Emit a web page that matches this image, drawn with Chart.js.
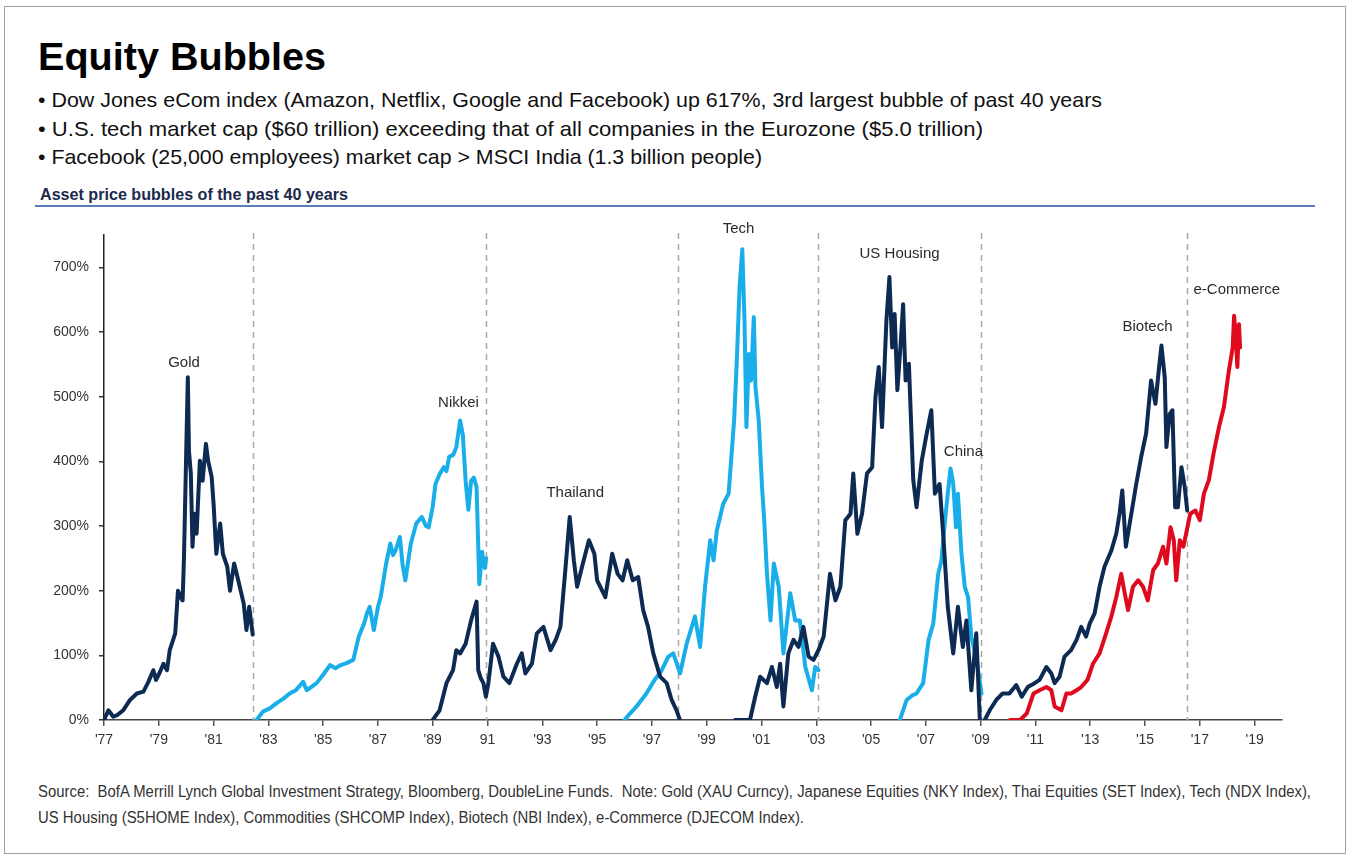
<!DOCTYPE html>
<html>
<head>
<meta charset="utf-8">
<title>Equity Bubbles</title>
<script src="https://cdn.jsdelivr.net/npm/chart.js@4.4.1/dist/chart.umd.min.js"></script>
<style>
  html, body { margin: 0; padding: 0; background: #fff; }
  #page { position: relative; width: 1347px; height: 855px; overflow: hidden; font-family: "Liberation Sans", Arial, sans-serif; color: #111; }
  #frame { position: absolute; left: 4px; top: 6px; width: 1340px; height: 846px; border: 1px solid #a0a0a0; }
  .fit { position: absolute; white-space: nowrap; transform-origin: 0 0; }
  #title { left: 38px; top: 37px; font-size: 39px; font-weight: bold; line-height: 39px; color: #000; }
  .bullet { left: 38px; font-size: 21px; line-height: 22px; color: #111; }
  #subtitle { left: 40px; top: 186px; font-size: 16px; font-weight: bold; color: #1b2a4e; line-height: 18px; }
  #rule { position: absolute; left: 35px; top: 205px; width: 1280px; height: 2px; background: #5a7db5; }
  .source { left: 38px; font-size: 16px; color: #333; line-height: 17px; }
  #chartBox { position: absolute; left: 0; top: 210px; width: 1347px; height: 550px; }
</style>
</head>
<body>
<div id="page">
  <div id="frame"></div>
  <div id="title" class="fit">Equity Bubbles</div>
  <div id="b1" class="fit bullet" style="top:89px">• Dow Jones eCom index (Amazon, Netflix, Google and Facebook) up 617%, 3rd largest bubble of past 40 years</div>
  <div id="b2" class="fit bullet" style="top:118px">• U.S. tech market cap ($60 trillion) exceeding that of all companies in the Eurozone ($5.0 trillion)</div>
  <div id="b3" class="fit bullet" style="top:146px">• Facebook (25,000 employees) market cap &gt; MSCI India (1.3 billion people)</div>
  <div id="subtitle" class="fit">Asset price bubbles of the past 40 years</div>
  <div id="rule"></div>
  <div id="chartBox"><canvas id="bubbleChart" width="1347" height="550"></canvas></div>
  <div id="s1" class="fit source" style="top:783px">Source:&nbsp; BofA Merrill Lynch Global Investment Strategy, Bloomberg, DoubleLine Funds.&nbsp; Note: Gold (XAU Curncy), Japanese Equities (NKY Index), Thai Equities (SET Index), Tech (NDX Index),</div>
  <div id="s2" class="fit source" style="top:809px">US Housing (S5HOME Index), Commodities (SHCOMP Index), Biotech (NBI Index), e-Commerce (DJECOM Index).</div>
</div>
<script>
// Axis ticks
var tickYears = [1977, 1979, 1981, 1983, 1985, 1987, 1989, 1991, 1993, 1995, 1997, 1999, 2001, 2003, 2005, 2007, 2009, 2011, 2013, 2015, 2017, 2019];
var tickLabels = ["'77", "'79", "'81", "'83", "'85", "'87", "'89", "91", "'93", "'95", "'97", "'99", "'01", "'03", "'05", "'07", "'09", "'11", "'13", "'15", "'17", "'19"];
var yTickValues = [0, 100, 200, 300, 400, 500, 600, 700];

// Dashed separators between bubbles (year)
var dividerYears = [1982.44, 1990.95, 1997.95, 2003.07, 2009.0, 2016.53];

// Bubble labels: name, year, % level
var bubbleNames = ['Gold', 'Nikkei', 'Thailand', 'Tech', 'US Housing', 'China', 'Biotech', 'e-Commerce'];
var labelYears = [1979.92, 1989.94, 1994.2, 2000.16, 2006.04, 2008.37, 2015.09, 2018.35];
var labelValues = [552, 491, 351, 759, 721, 414, 608, 665];

// Series: [year, % gain from start]
var gold = [[1977.0, 0], [1977.16, 15], [1977.34, 5], [1977.5, 8], [1977.7, 15], [1977.95, 31], [1978.2, 41], [1978.44, 44],
  [1978.62, 59], [1978.8, 77], [1978.9, 62], [1979.05, 75], [1979.17, 87], [1979.3, 77], [1979.4, 108], [1979.6, 134],
  [1979.7, 200], [1979.8, 190], [1979.87, 185], [1979.92, 252], [1980.0, 412], [1980.06, 530], [1980.1, 417], [1980.17, 381],
  [1980.23, 268], [1980.3, 319], [1980.38, 288], [1980.5, 401], [1980.6, 370], [1980.72, 427], [1980.8, 401], [1980.93, 376],
  [1981.0, 334], [1981.1, 257], [1981.24, 304], [1981.34, 257], [1981.5, 237], [1981.6, 200], [1981.75, 242], [1981.9, 216],
  [1982.1, 180], [1982.2, 139], [1982.3, 175], [1982.43, 132]];

var nikkei = [[1982.57, 0], [1982.8, 13], [1983.05, 18], [1983.3, 26], [1983.55, 33], [1983.78, 41], [1984.0, 46], [1984.27, 59],
  [1984.4, 46], [1984.6, 52], [1984.76, 57], [1985.0, 70], [1985.25, 85], [1985.45, 80], [1985.6, 84], [1985.85, 88],
  [1986.1, 93], [1986.3, 129], [1986.5, 150], [1986.6, 165], [1986.7, 175], [1986.85, 139], [1987.0, 175], [1987.1, 190],
  [1987.3, 242], [1987.45, 273], [1987.55, 255], [1987.64, 262], [1987.8, 283], [1987.9, 240], [1988.0, 216], [1988.2, 273],
  [1988.4, 304], [1988.6, 314], [1988.75, 300], [1988.85, 298], [1989.0, 330], [1989.1, 365], [1989.25, 380], [1989.4, 391],
  [1989.5, 385], [1989.6, 407], [1989.75, 410], [1989.86, 422], [1990.0, 463], [1990.1, 440], [1990.2, 370], [1990.3, 325],
  [1990.4, 370], [1990.5, 375], [1990.6, 360], [1990.7, 210], [1990.8, 260], [1990.9, 235], [1990.95, 250]];

var thailand = [[1989.0, 0], [1989.25, 15], [1989.5, 57], [1989.74, 77], [1989.86, 108], [1990.0, 103], [1990.2, 118], [1990.4, 154],
  [1990.6, 183], [1990.66, 77], [1990.75, 65], [1990.85, 57], [1990.94, 36], [1991.03, 57], [1991.2, 118], [1991.4, 98],
  [1991.58, 67], [1991.8, 57], [1992.07, 87], [1992.25, 103], [1992.38, 72], [1992.62, 87], [1992.8, 134], [1993.04, 144],
  [1993.3, 108], [1993.5, 125], [1993.66, 144], [1993.84, 232], [1994.0, 314], [1994.15, 247], [1994.27, 206], [1994.45, 237],
  [1994.7, 278], [1994.9, 257], [1995.0, 216], [1995.3, 190], [1995.55, 257], [1995.75, 226], [1995.93, 216], [1996.1, 247],
  [1996.3, 216], [1996.5, 221], [1996.68, 170], [1996.86, 144], [1997.05, 103], [1997.3, 67], [1997.54, 57], [1997.72, 31],
  [1997.9, 15], [1998.02, 0]];

var tech = [[1996.0, 0], [1996.2, 10], [1996.44, 21], [1996.8, 41], [1997.1, 62], [1997.36, 77], [1997.6, 98], [1997.78, 103],
  [1998.03, 72], [1998.27, 118], [1998.57, 160], [1998.76, 113], [1998.94, 206], [1999.13, 278], [1999.25, 247], [1999.37, 293],
  [1999.6, 334], [1999.8, 350], [2000.0, 463], [2000.1, 556], [2000.2, 669], [2000.3, 728], [2000.38, 618], [2000.45, 453],
  [2000.54, 566], [2000.62, 525], [2000.72, 623], [2000.78, 515], [2000.9, 463], [2001.02, 360], [2001.1, 309], [2001.2, 226],
  [2001.33, 154], [2001.45, 242], [2001.63, 206], [2001.8, 103], [2002.05, 196], [2002.23, 154], [2002.4, 154], [2002.6, 82],
  [2002.84, 46], [2002.96, 82], [2003.08, 77]];

var usHousing = [[2000.03, 0], [2000.58, 0], [2000.77, 36], [2000.95, 67], [2001.2, 57], [2001.38, 82], [2001.56, 51], [2001.68, 87],
  [2001.8, 21], [2001.98, 103], [2002.17, 124], [2002.35, 113], [2002.53, 144], [2002.72, 98], [2002.9, 93], [2003.08, 108],
  [2003.27, 129], [2003.5, 226], [2003.7, 185], [2003.88, 206], [2004.06, 309], [2004.25, 319], [2004.35, 381], [2004.5, 288],
  [2004.67, 319], [2004.85, 381], [2005.04, 391], [2005.16, 499], [2005.28, 546], [2005.4, 453], [2005.56, 618], [2005.67, 685],
  [2005.77, 576], [2005.86, 628], [2005.96, 510], [2006.08, 582], [2006.17, 643], [2006.26, 525], [2006.38, 551], [2006.54, 371],
  [2006.66, 329], [2006.85, 401], [2007.03, 443], [2007.2, 479], [2007.33, 350], [2007.5, 365], [2007.64, 283], [2007.8, 175],
  [2008.0, 103], [2008.17, 175], [2008.35, 113], [2008.48, 154], [2008.66, 46], [2008.84, 134], [2008.97, 0]];

var china = [[2006.05, 0], [2006.3, 31], [2006.5, 38], [2006.66, 41], [2006.9, 57], [2007.1, 124], [2007.27, 149], [2007.45, 226],
  [2007.57, 247], [2007.7, 309], [2007.8, 350], [2007.9, 389], [2008.0, 365], [2008.1, 298], [2008.17, 350], [2008.3, 257],
  [2008.42, 206], [2008.54, 190], [2008.66, 129], [2008.85, 93], [2009.03, 41]];

var biotech = [[2009.15, 0], [2009.33, 15], [2009.57, 31], [2009.8, 41], [2010.05, 41], [2010.3, 54], [2010.5, 36], [2010.72, 51],
  [2010.97, 57], [2011.15, 62], [2011.4, 82], [2011.58, 72], [2011.7, 57], [2011.88, 67], [2012.06, 98], [2012.3, 108],
  [2012.5, 124], [2012.67, 144], [2012.85, 129], [2012.98, 149], [2013.16, 165], [2013.34, 206], [2013.52, 237], [2013.77, 262],
  [2013.95, 288], [2014.07, 319], [2014.17, 355], [2014.3, 268], [2014.5, 319], [2014.68, 365], [2014.86, 407], [2015.04, 443],
  [2015.22, 525], [2015.38, 489], [2015.5, 540], [2015.6, 579], [2015.72, 530], [2015.78, 422], [2015.9, 473], [2016.0, 479],
  [2016.1, 329], [2016.2, 329], [2016.33, 391], [2016.45, 360], [2016.54, 324]];

var eCommerce = [[2010.07, 0], [2010.44, 0], [2010.68, 10], [2010.93, 41], [2011.15, 46], [2011.4, 51], [2011.58, 46], [2011.7, 21],
  [2011.95, 15], [2012.13, 41], [2012.3, 41], [2012.5, 46], [2012.67, 51], [2012.9, 62], [2013.1, 87], [2013.34, 103],
  [2013.58, 134], [2013.77, 160], [2013.95, 190], [2014.13, 226], [2014.26, 196], [2014.38, 170], [2014.56, 206], [2014.75, 216],
  [2014.93, 206], [2015.1, 185], [2015.3, 232], [2015.47, 242], [2015.66, 268], [2015.78, 242], [2015.93, 298], [2016.05, 278],
  [2016.14, 216], [2016.27, 278], [2016.4, 268], [2016.5, 288], [2016.65, 319], [2016.84, 324], [2017.0, 309], [2017.15, 350],
  [2017.33, 371], [2017.5, 412], [2017.7, 453], [2017.88, 484], [2018.06, 540], [2018.2, 576], [2018.25, 625], [2018.3, 602],
  [2018.37, 546], [2018.43, 612], [2018.47, 576]];

var NAVY = '#0d2a52', SKY = '#19aee9', RED = '#df0a1e';

var toPoints = function (series) {
  return series.map(function (p) { return { x: p[0], y: p[1] }; });
};

var makeDataset = function (name, series, color) {
  return {
    label: name,
    data: toPoints(series),
    borderColor: color,
    borderWidth: 4,
    borderJoinStyle: 'round',
    borderCapStyle: 'round',
    pointRadius: 0,
    tension: 0,
    fill: false
  };
};

// Shrink/stretch the header and footer lines to the reference widths
var fitText = function (id, width) {
  var el = document.getElementById(id);
  var w = el.getBoundingClientRect().width;
  el.style.transform = 'scaleX(' + (width / w) + ')';
};

var dividerPlugin = {
  id: 'dividers',
  beforeDatasetsDraw: function (chart) {
    var ctx = chart.ctx, xs = chart.scales.x, area = chart.chartArea;
    ctx.save();
    ctx.strokeStyle = '#a8a8a8';
    ctx.lineWidth = 1.5;
    ctx.setLineDash([6, 5]);
    dividerYears.forEach(function (yr) {
      var px = Math.round(xs.getPixelForValue(yr)) + 0.5;
      ctx.beginPath();
      ctx.moveTo(px, area.top - 2);
      ctx.lineTo(px, area.bottom);
      ctx.stroke();
    });
    ctx.restore();
  }
};

var labelPlugin = {
  id: 'bubbleLabels',
  afterDatasetsDraw: function (chart) {
    var ctx = chart.ctx, xs = chart.scales.x, ys = chart.scales.y;
    ctx.save();
    ctx.font = '15px "Liberation Sans", Arial, sans-serif';
    ctx.fillStyle = '#2a2a2a';
    ctx.textAlign = 'center';
    ctx.textBaseline = 'middle';
    bubbleNames.forEach(function (name, i) {
      ctx.fillText(name, xs.getPixelForValue(labelYears[i]), ys.getPixelForValue(labelValues[i]));
    });
    ctx.restore();
  }
};

document.addEventListener('DOMContentLoaded', function () {
  fitText('title', 288);
  fitText('b1', 1064);
  fitText('b2', 945);
  fitText('b3', 724);
  fitText('subtitle', 308);
  fitText('s1', 1273);
  fitText('s2', 766);

  var tickFont = { family: '"Liberation Sans", Arial, sans-serif', size: 14 };

  var ctx = document.getElementById('bubbleChart').getContext('2d');
  new Chart(ctx, {
    type: 'line',
    data: {
      datasets: [
        makeDataset('e-Commerce', eCommerce, RED),
        makeDataset('Biotech', biotech, NAVY),
        makeDataset('Gold', gold, NAVY),
        makeDataset('Thailand', thailand, NAVY),
        makeDataset('US Housing', usHousing, NAVY),
        makeDataset('Nikkei', nikkei, SKY),
        makeDataset('Tech', tech, SKY),
        makeDataset('China', china, SKY)
      ]
    },
    options: {
      responsive: false,
      animation: false,
      devicePixelRatio: 1,
      layout: { padding: { top: 25, right: 65, left: 0, bottom: 0 } },
      plugins: { legend: { display: false }, tooltip: { enabled: false } },
      scales: {
        x: {
          type: 'linear',
          min: 1977,
          max: 2020,
          afterBuildTicks: function (scale) { scale.ticks = tickYears.map(function (v) { return { value: v }; }); },
          afterFit: function (scale) { scale.height = 40; },
          ticks: {
            autoSkip: false,
            maxRotation: 0,
            padding: 6,
            color: '#333',
            font: tickFont,
            callback: function (v, i) { return tickLabels[i]; }
          },
          grid: { drawOnChartArea: false, tickLength: 6, color: '#555', lineWidth: 1.5 },
          border: { color: '#444', width: 1.5 }
        },
        y: {
          min: 0,
          max: 750,
          afterBuildTicks: function (scale) { scale.ticks = yTickValues.map(function (v) { return { value: v }; }); },
          afterFit: function (scale) { scale.width = 104; },
          ticks: {
            padding: 10,
            color: '#333',
            font: tickFont,
            callback: function (v) { return v + '%'; }
          },
          grid: { drawOnChartArea: false, tickLength: 5, color: '#333', lineWidth: 1.5 },
          border: { color: '#222', width: 1.5 }
        }
      }
    },
    plugins: [dividerPlugin, labelPlugin]
  });
});
</script>
</body>
</html>
